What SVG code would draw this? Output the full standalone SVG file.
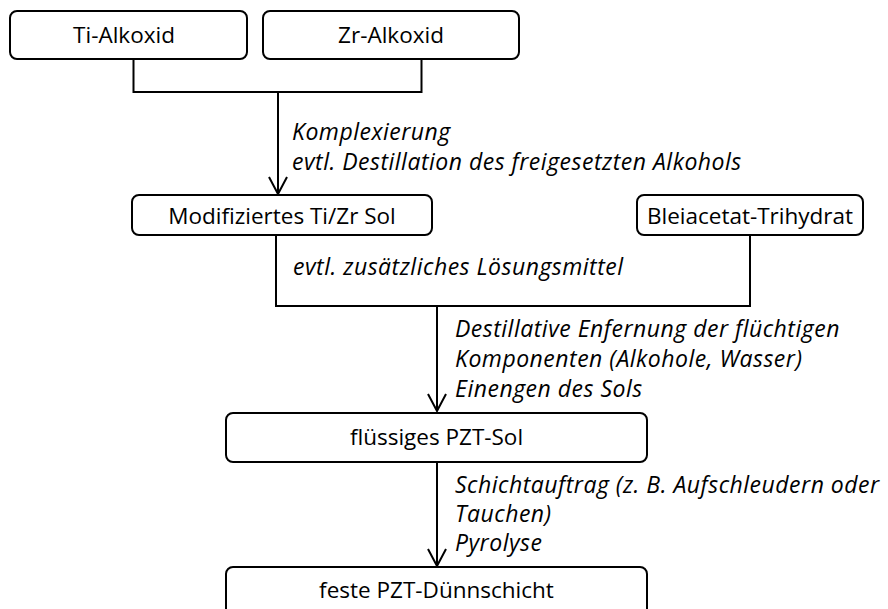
<svg xmlns="http://www.w3.org/2000/svg" width="888" height="609" viewBox="0 0 888 609">
  <style>
    .box { fill: #ffffff; stroke: #000000; stroke-width: 2; }
    .lbl { font-family: "Open Sans", "Noto Sans", "DejaVu Sans", sans-serif; font-size: 22.5px; fill: #000000; text-anchor: middle; }
    .note { font-family: "Open Sans", "Noto Sans", "DejaVu Sans", sans-serif; font-size: 23px; letter-spacing: 0.5px; font-style: italic; fill: #000000; }
    .conn { fill: none; stroke: #000000; stroke-width: 2; }
  </style>
  <defs>
    <marker id="arrow" viewBox="0 0 20 20" refX="18" refY="10" markerWidth="20" markerHeight="20" markerUnits="userSpaceOnUse" orient="auto">
      <path d="M1,1 L18,10 L1,19" fill="none" stroke="#000000" stroke-width="2"/>
    </marker>
  </defs>
  <rect width="888" height="609" fill="#ffffff"/>
  <g id="connectors">
    <path class="conn" d="M133.5,59 V92 H421.5 V59"/>
    <path class="conn" d="M278,92 V194" marker-end="url(#arrow)"/>
    <path class="conn" d="M276,235 V306 H750 V235"/>
    <path class="conn" d="M437,306 V411" marker-end="url(#arrow)"/>
    <path class="conn" d="M437,462 V566" marker-end="url(#arrow)"/>
  </g>
  <g id="ti-alkoxid">
    <rect class="box" x="10" y="11" width="237" height="48" rx="7"/>
    <text class="lbl" x="124" y="43">Ti-Alkoxid</text>
  </g>
  <g id="zr-alkoxid">
    <rect class="box" x="263" y="11" width="256" height="48" rx="7"/>
    <text class="lbl" x="391" y="43">Zr-Alkoxid</text>
  </g>
  <g id="label-komplexierung">
    <text class="note" x="292" y="140">Komplexierung</text>
    <text class="note" x="292" y="170">evtl. Destillation des freigesetzten Alkohols</text>
  </g>
  <g id="modifiziertes-sol">
    <rect class="box" x="132" y="195" width="300" height="40" rx="7"/>
    <text class="lbl" x="282" y="224">Modifiziertes Ti/Zr Sol</text>
  </g>
  <g id="bleiacetat">
    <rect class="box" x="637" y="195" width="226" height="40" rx="7"/>
    <text class="lbl" x="750" y="224">Bleiacetat-Trihydrat</text>
  </g>
  <g id="label-loesungsmittel">
    <text class="note" x="293" y="275">evtl. zusätzliches Lösungsmittel</text>
  </g>
  <g id="label-destillation">
    <text class="note" x="455" y="337">Destillative Enfernung der flüchtigen</text>
    <text class="note" x="455" y="367">Komponenten (Alkohole, Wasser)</text>
    <text class="note" x="455" y="397">Einengen des Sols</text>
  </g>
  <g id="fluessiges-sol">
    <rect class="box" x="226" y="413" width="421" height="49" rx="7"/>
    <text class="lbl" x="436.5" y="445">flüssiges PZT-Sol</text>
  </g>
  <g id="label-schichtauftrag">
    <text class="note" x="455" y="493">Schichtauftrag (z. B. Aufschleudern oder</text>
    <text class="note" x="455" y="522">Tauchen)</text>
    <text class="note" x="455" y="551">Pyrolyse</text>
  </g>
  <g id="feste-schicht">
    <rect class="box" x="226" y="567" width="421" height="60" rx="7"/>
    <text class="lbl" x="436.5" y="598">feste PZT-Dünnschicht</text>
  </g>
</svg>
